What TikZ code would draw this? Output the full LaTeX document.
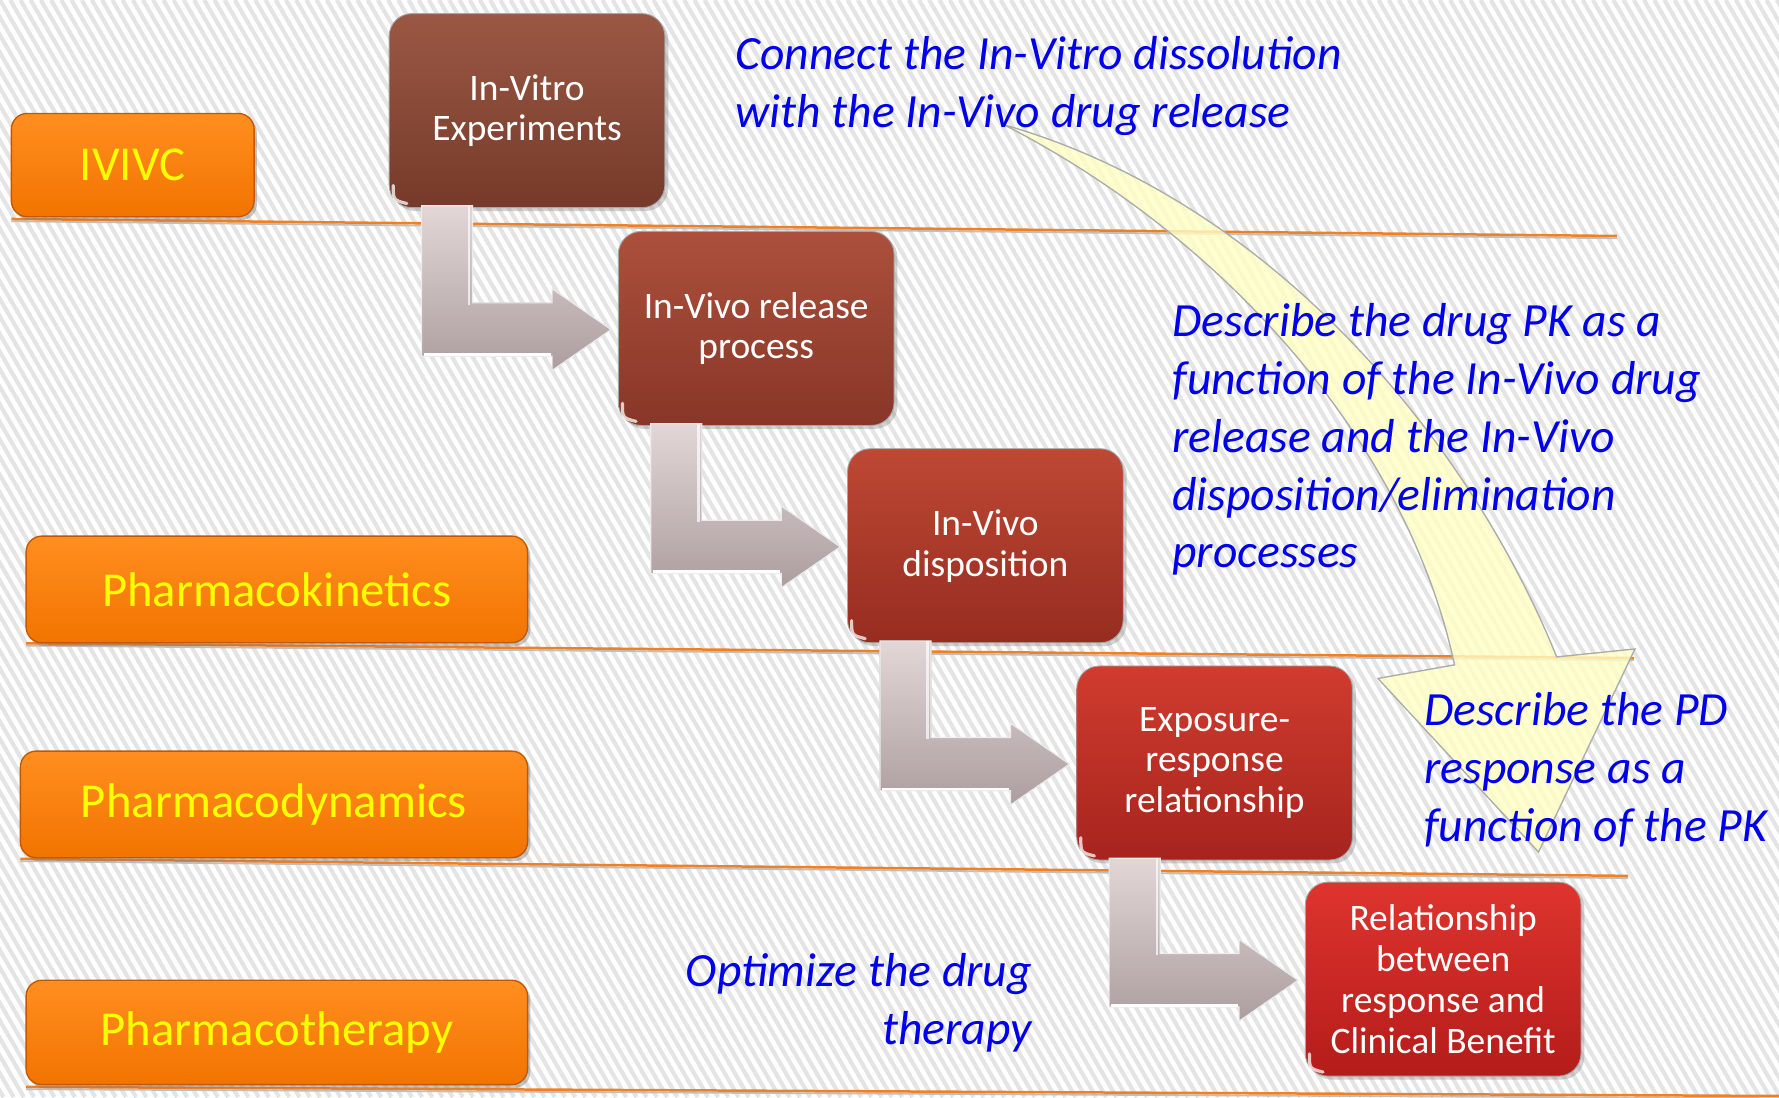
\documentclass[tikz,border=0pt]{standalone}
\usepackage{fontspec}
\setmainfont{Carlito}
\usetikzlibrary{shadows,calc}
\definecolor{c0t}{RGB}{154,88,68}
\definecolor{c0b}{RGB}{118,58,42}
\definecolor{c1t}{RGB}{172,80,60}
\definecolor{c1b}{RGB}{136,54,40}
\definecolor{c2t}{RGB}{190,72,52}
\definecolor{c2b}{RGB}{150,44,32}
\definecolor{c3t}{RGB}{208,60,46}
\definecolor{c3b}{RGB}{166,36,30}
\definecolor{c4t}{RGB}{222,52,46}
\definecolor{c4b}{RGB}{180,28,26}
\definecolor{orTop}{RGB}{255,142,32}
\definecolor{orMid}{RGB}{255,128,10}
\definecolor{orBot}{RGB}{242,116,0}
\definecolor{orEdge}{RGB}{196,88,0}
\definecolor{txtYellow}{RGB}{255,255,0}
\definecolor{noteBlue}{RGB}{0,0,235}
\definecolor{sepOrange}{RGB}{240,128,36}
\definecolor{stripeGray}{RGB}{228,228,228}
\definecolor{arrTop}{RGB}{226,214,214}
\definecolor{arrBot}{RGB}{172,158,158}
\definecolor{yFill}{RGB}{255,255,196}
\begin{document}
\begin{tikzpicture}[x=0.5pt,y=-0.5pt,
  stepbox/.style={rounded corners=10pt, minimum width=121.5pt, minimum height=85.5pt,
    inner sep=0pt, align=center, text=white, font=\fontsize{16.5}{18}\selectfont,
    draw=black!35, line width=0.4pt,
    drop shadow={shadow xshift=1.5pt, shadow yshift=-1.5pt, opacity=0.35}},
  phase/.style={rounded corners=7pt, inner sep=0pt, text=txtYellow,
    top color=orTop, middle color=orMid, bottom color=orBot, draw=orEdge, line width=0.6pt,
    font=\fontsize{21.5}{25}\selectfont,
    drop shadow={shadow xshift=1.2pt, shadow yshift=-1.5pt, opacity=0.45}},
  note/.style={inner sep=0pt, align=left, text=noteBlue, font=\fontsize{21}{25.5}\selectfont\itshape},
  sepline/.style={draw=sepOrange, line width=1.1pt},
  sepshadow/.style={draw=gray!50, line width=0.8pt},
  stripe/.style={draw=stripeGray, line width=1.8pt},
  larrow/.style={top color=arrTop, bottom color=arrBot, draw=white!85!gray, line width=0.5pt},
  yarrow/.style={fill=yFill, fill opacity=0.8, draw=gray!65, line width=0.6pt},
  gloss/.style={draw=white, opacity=0.75, line width=1.4pt, line cap=round}
]
\useasboundingbox (0,0) rectangle (1568,967);
\fill[white] (0,0) rectangle (1568,967);
\begin{scope}
  \clip (0,0) rectangle (1568,967);
  \foreach \i in {-64,...,176} { \draw[stripe] (\i*9,0) -- ++(561,967); }
\end{scope}

% separator lines
\draw[sepshadow] (10,195) -- (1425,210);
\draw[sepline] (10,193) -- (1425,208);
\draw[sepshadow] (23,569) -- (1440,582);
\draw[sepline] (23,567) -- (1440,580);
\draw[sepshadow] (18,759) -- (1435,774);
\draw[sepline] (18,757) -- (1435,772);
\draw[sepshadow] (23,960) -- (1568,968);
\draw[sepline] (23,958) -- (1568,966);

% phase boxes
\node[phase, minimum width=107pt, minimum height=45.5pt] (ivivc) at (117,145.5) {IVIVC};
\node[phase, minimum width=221pt, minimum height=47pt] (pk) at (244,519.5) {\raisebox{-1pt}{Pharmacokinetics}};
\node[phase, minimum width=223.5pt, minimum height=47pt] (pd) at (241.5,709) {Pharmacodynamics};
\node[phase, minimum width=221pt, minimum height=46pt] (pt) at (244,910) {Pharmacotherapy};

% step boxes
\node[stepbox, top color=c0t, bottom color=c0b] (b0) at (464.5,97.5) {In-Vitro\\Experiments};
\node[stepbox, top color=c1t, bottom color=c1b] (b1) at (666.5,289.5) {In-Vivo release\\process};
\node[stepbox, top color=c2t, bottom color=c2b] (b2) at (868.5,481) {In-Vivo\\disposition};
\node[stepbox, top color=c3t, bottom color=c3b] (b3) at (1070.5,672.5) {Exposure-\\response\\relationship};
\node[stepbox, top color=c4t, bottom color=c4b] (b4) at (1272,863) {Relationship\\between\\response and\\Clinical Benefit};
\foreach \b in {b0,b1,b2,b3,b4} {
  \draw[gloss] ($(\b.south west)+(4,-20)$) .. controls ($(\b.south west)+(4,-7)$) .. ($(\b.south west)+(16,-4)$);
}

% L-shaped block arrows (drawn from box to box)
\foreach \a/\b in {b0/b1,b1/b2,b2/b3,b3/b4} {
  \coordinate (T) at ($(\b.west)+(-6,1)$);
  \coordinate (SL) at ($(\a.south west)+(29,-2)$);
  \coordinate (SR) at ($(\a.south west)+(74,-2)$);
  \fill[larrow] (SL) -- ($(SL |- T)+(0,23.5)$) -- ($(T)+(-52,23.5)$) -- ($(T)+(-52,36)$)
    -- (T) -- ($(T)+(-52,-36)$) -- ($(T)+(-52,-23.5)$) -- ($(SR |- T)+(0,-23.5)$) -- (SR) -- cycle;
  \draw[white, line width=1.2pt] ($(SL |- T)+(2,22)$) -- ($(T)+(-53,22)$);
  \draw[white, opacity=0.7, line width=1pt] ($(SR)+(-3,0)$) -- ($(SR |- T)+(-3,-22)$);
}

% curved yellow block arrow
\fill[yarrow] (885,110) .. controls (1130,180) and (1300,400) .. (1372,579)
  -- (1441,572) -- (1356,751) -- (1214.5,598) -- (1282,586)
  .. controls (1240,390) and (1080,210) .. (885,110) -- cycle;

% notes
\node[note, anchor=north west] (n1) at (648,32) {Connect the In-Vitro dissolution\\with the In-Vivo drug release};
\node[note, anchor=north west] (n2) at (1033,267) {Describe the drug PK as a\\function of the In-Vivo drug\\release and the In-Vivo\\disposition/elimination\\processes};
\node[note, anchor=north west] (n3) at (1255,610) {Describe the PD\\response as a\\function of the PK};
\node[note, anchor=north east, align=right] (n4) at (910,840) {Optimize the drug\\therapy};
\end{tikzpicture}
\end{document}
